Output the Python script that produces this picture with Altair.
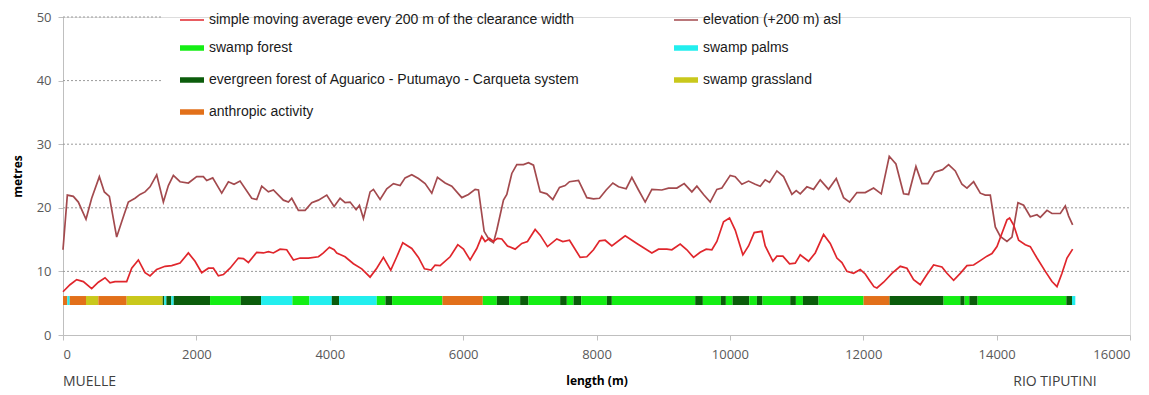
import altair as alt
import pandas as pd

# ---------------- data ----------------
elev_x = [0, 65, 155, 230, 345, 430, 545, 620, 695, 805, 880, 980, 1080, 1155, 1230, 1305, 1405, 1505, 1580, 1655,
          1755, 1880, 2005, 2105, 2155, 2245, 2380, 2480, 2565, 2655, 2830, 2905, 2980, 3080, 3155, 3305, 3380, 3430,
          3530, 3630, 3730, 3830, 3955, 4065, 4155, 4230, 4305, 4395, 4445, 4505, 4605, 4655, 4755, 4855, 4955, 5055,
          5130, 5230, 5330, 5430, 5530, 5615, 5730, 5830, 5980, 6080, 6180, 6230, 6315, 6395, 6455, 6505, 6605, 6655,
          6730, 6805, 6905, 6980, 7055, 7155, 7255, 7345, 7445, 7530, 7595, 7730, 7855, 7955, 8045, 8145, 8245, 8330,
          8445, 8530, 8630, 8730, 8830, 8980, 9080, 9205, 9315, 9430, 9505, 9605, 9705, 9805, 9880, 10005, 10080,
          10180, 10280, 10380, 10455, 10530, 10595, 10705, 10805, 10930, 10995, 11055, 11155, 11255, 11355, 11480,
          11595, 11705, 11795, 11905, 12030, 12155, 12270, 12390, 12490, 12605, 12680, 12790, 12880, 12970, 13070,
          13190, 13280, 13380, 13480, 13555, 13655, 13755, 13830, 13905, 13980, 14055, 14155, 14230, 14320, 14405,
          14505, 14605, 14655, 14755, 14830, 14955, 15030, 15080, 15140]
elev_y = [13.4, 22.0, 21.8, 20.9, 18.2, 21.5, 24.9, 22.5, 21.8, 15.4, 17.8, 20.9, 21.5, 22.1, 22.5, 23.3, 25.2, 20.9,
          23.5, 25.1, 24.1, 23.9, 24.9, 24.9, 24.3, 24.7, 22.3, 24.1, 23.7, 24.2, 21.5, 21.3, 23.4, 22.5, 22.8, 21.2,
          20.9, 21.5, 19.6, 19.6, 20.8, 21.2, 22.0, 20.2, 21.5, 20.8, 20.9, 19.7, 20.4, 18.3, 22.5, 22.9, 21.3, 23.0,
          23.8, 23.5, 24.7, 25.2, 24.6, 23.8, 22.3, 24.8, 23.9, 23.4, 21.6, 22.1, 22.9, 22.8, 16.3, 14.9, 14.5, 16.5,
          21.2, 22.1, 25.4, 26.8, 26.8, 27.1, 26.7, 22.5, 22.2, 21.3, 23.2, 23.5, 24.1, 24.3, 21.6, 21.4, 21.5, 22.8,
          23.9, 23.3, 23.0, 24.8, 22.8, 20.9, 22.9, 22.8, 23.1, 23.1, 23.8, 22.5, 23.4, 22.1, 20.9, 22.9, 23.1, 25.1,
          24.9, 23.7, 24.2, 23.7, 23.4, 24.4, 24.0, 25.8, 24.9, 22.1, 22.7, 22.2, 23.3, 22.9, 24.4, 22.9, 24.6, 21.6,
          20.9, 22.4, 22.4, 23.1, 22.2, 28.1, 26.9, 22.2, 22.1, 26.5, 23.8, 23.8, 25.6, 26.0, 26.8, 25.8, 23.7, 23.1,
          24.1, 22.3, 22.0, 22.0, 17.0, 15.5, 14.7, 15.4, 20.8, 20.4, 18.6, 18.9, 18.5, 19.6, 19.1, 19.1, 20.3, 18.7,
          17.3]

sma_x = [0, 105, 205, 305, 430, 530, 630, 705, 780, 955, 1030, 1130, 1230, 1305, 1405, 1530, 1630, 1755, 1880, 1980,
         2080, 2180, 2255, 2330, 2405, 2505, 2630, 2705, 2780, 2905, 3005, 3080, 3155, 3255, 3355, 3455, 3555, 3680,
         3830, 3905, 3995, 4065, 4105, 4230, 4355, 4480, 4605, 4705, 4805, 4915, 5005, 5095, 5230, 5330, 5420, 5520,
         5580, 5655, 5805, 5920, 6005, 6105, 6205, 6280, 6330, 6395, 6455, 6515, 6580, 6665, 6780, 6880, 6965, 7080,
         7155, 7265, 7405, 7495, 7595, 7755, 7855, 7955, 8045, 8130, 8230, 8430, 8605, 8830, 8930, 9055, 9130, 9255,
         9355, 9455, 9555, 9645, 9730, 9805, 9905, 9995, 10080, 10195, 10280, 10365, 10480, 10530, 10645, 10705,
         10795, 10895, 10980, 11055, 11180, 11280, 11405, 11505, 11605, 11680, 11755, 11855, 11955, 12030, 12100,
         12160, 12205, 12305, 12430, 12555, 12655, 12755, 12855, 12955, 13055, 13180, 13255, 13355, 13455, 13555,
         13655, 13755, 13855, 13930, 14005, 14080, 14155, 14195, 14255, 14330, 14430, 14505, 14605, 14730, 14830,
         14905, 14980, 15055, 15140]
sma_y = [6.8, 7.9, 8.7, 8.4, 7.3, 8.3, 9.0, 8.2, 8.4, 8.4, 10.5, 11.8, 9.8, 9.3, 10.3, 10.8, 10.9, 11.3, 12.9, 11.6,
         9.8, 10.5, 10.5, 9.3, 9.5, 10.5, 12.1, 12.0, 11.4, 13.0, 12.9, 13.1, 12.9, 13.5, 13.4, 11.8, 12.1, 12.1,
         12.3, 12.9, 13.8, 13.4, 12.9, 12.3, 11.2, 10.4, 9.1, 10.5, 12.2, 10.2, 12.3, 14.5, 13.6, 12.2, 10.4, 10.2,
         11.0, 10.9, 12.3, 14.2, 13.5, 11.8, 13.6, 15.5, 14.7, 15.2, 14.7, 15.2, 15.1, 14.0, 13.5, 14.4, 14.7, 16.6,
         15.7, 13.9, 15.1, 14.7, 14.9, 12.2, 12.3, 13.4, 14.8, 14.9, 14.0, 15.6, 14.4, 12.9, 13.5, 13.5, 13.4, 14.3,
         13.4, 12.2, 13.0, 13.5, 13.4, 14.7, 17.8, 18.4, 16.5, 12.6, 14.0, 16.1, 16.3, 14.0, 11.6, 12.4,
         12.4, 11.2, 11.3, 12.6, 11.6, 12.9, 15.8, 14.4, 12.1, 11.4, 10.0, 9.7, 10.3, 9.6, 8.5,
         7.6, 7.4, 8.3, 9.7, 10.8, 10.5, 8.7, 7.9, 9.5, 11.0, 10.7, 9.7, 8.6, 9.7, 10.9,
         11.0, 11.7, 12.4, 12.8, 13.9, 16.0, 18.1, 18.4, 17.3, 14.9, 14.2, 13.9, 12.1, 10.0, 8.4,
         7.6, 9.7, 12.1, 13.5]

# vegetation / land-use segments along the route (start m, end m, type)
seg_start = [0, 65, 100, 345, 530, 955, 1495, 1520, 1550, 1625, 1660, 2205, 2665, 2970, 3440, 3695, 4030, 4140,
             4705, 4835, 4935, 5690, 6295, 6505, 6690, 6855, 6980, 7455, 7555, 7655, 7770, 8155, 8230, 9480, 9595,
             9865, 9940, 10040, 10290, 10405, 10490, 10905, 10990, 11095, 11330, 12005, 12395, 13205, 13455, 13520,
             13590, 13715, 15045, 15130]
seg_end = [65, 100, 345, 530, 955, 1495, 1520, 1550, 1625, 1660, 2205, 2665, 2970, 3440, 3695, 4030, 4140, 4705,
           4835, 4935, 5690, 6295, 6505, 6690, 6855, 6980, 7455, 7555, 7655, 7770, 8155, 8230, 9480, 9595, 9865,
           9940, 10040, 10290, 10405, 10490, 10905, 10990, 11095, 11330, 12005, 12395, 13205, 13455, 13520, 13590,
           13715, 15045, 15130, 15180]
seg_type = ["A", "P", "A", "G", "A", "G", "E", "P", "E", "P", "E", "F", "E", "P", "F", "P", "E", "P",
            "F", "E", "F", "A", "F", "E", "F", "E", "F", "E", "F", "E", "F", "E", "F", "E", "F",
            "E", "F", "E", "F", "E", "F", "E", "F", "E", "F", "A", "E", "F", "E", "F",
            "E", "F", "E", "P"]

SMA = "simple moving average every 200 m of the clearance width"
ELEV = "elevation (+200 m) asl"
FOREST = "swamp forest"
PALMS = "swamp palms"
EVER = "evergreen forest of Aguarico - Putumayo - Carqueta system"
GRASS = "swamp grassland"
ANTH = "anthropic activity"
type_names = {"F": FOREST, "P": PALMS, "E": EVER, "G": GRASS, "A": ANTH}

# legend is filled column by column: left column first, then right column
legend_order = [SMA, FOREST, EVER, ANTH, ELEV, PALMS, GRASS]
legend_colors = ["#e0262c", "#14ee14", "#0b5c0b", "#e2701a", "#a34a4e", "#22eeee", "#c9c81c"]

x_ticks = [0, 2000, 4000, 6000, 8000, 10000, 12000, 14000, 16000]
y_ticks = [0, 10, 20, 30, 40, 50]
grid_full = [10, 20, 30]
grid_short = [40, 50]
end_left = ["MUELLE"]
end_left_pos = [0]
end_right = ["RIO TIPUTINI"]
end_right_pos = [15500]

# ---------------- tables ----------------
lines_df = pd.DataFrame({
    "length": elev_x + sma_x,
    "value": elev_y + sma_y,
    "series": [ELEV] * len(elev_x) + [SMA] * len(sma_x),
})
veg_df = pd.DataFrame({"start": seg_start, "end": seg_end,
                       "series": [type_names[t] for t in seg_type]})

W, H = 1067, 318
FONT = "Open Sans"
x_scale = alt.Scale(domain=[0, 16000], nice=False)
y_scale = alt.Scale(domain=[0, 50], nice=False)
color_scale = alt.Scale(domain=legend_order, range=legend_colors)

x_axis = alt.Axis(values=x_ticks, format="d", title="length (m)", grid=False,
                  labelFont=FONT, labelFontSize=13, labelColor="#595959", labelPadding=8,
                  tickSize=5, tickColor="#bfbfbf", domainColor="#bfbfbf",
                  titleFont=FONT, titleFontSize=12, titleFontWeight="bold", titleColor="#000000",
                  titlePadding=14)
y_axis = alt.Axis(values=y_ticks, title="metres", grid=False,
                  labelFont=FONT, labelFontSize=13, labelColor="#595959", labelPadding=7,
                  tickSize=5, tickColor="#bfbfbf", domainColor="#bfbfbf",
                  titleFont=FONT, titleFontSize=12, titleFontWeight="bold", titleColor="#000000",
                  titlePadding=12)

thin = "datum.value == '" + SMA + "' || datum.value == '" + ELEV + "' ? 1.5 : 5.5"

grid1 = alt.Chart(pd.DataFrame({"g": grid_full})).mark_rule(
    color="#9a9a9a", strokeDash=[2, 2], strokeWidth=1
).encode(y=alt.Y("g:Q", scale=y_scale, axis=y_axis), x=alt.value(0), x2=alt.value(W))

grid2 = alt.Chart(pd.DataFrame({"g": grid_short})).mark_rule(
    color="#9a9a9a", strokeDash=[2, 2], strokeWidth=1
).encode(y=alt.Y("g:Q", scale=y_scale, axis=y_axis), x=alt.value(0), x2=alt.value(100))

veg = alt.Chart(veg_df).mark_rule(strokeWidth=9).encode(
    x=alt.X("start:Q", scale=x_scale, axis=x_axis),
    x2="end:Q",
    y=alt.datum(5.42, scale=y_scale, axis=y_axis),
    color=alt.Color("series:N", scale=color_scale),
)

lines = alt.Chart(lines_df).mark_line(strokeWidth=1.7).encode(
    x=alt.X("length:Q", scale=x_scale, axis=x_axis),
    y=alt.Y("value:Q", scale=y_scale, axis=y_axis),
    color=alt.Color("series:N", scale=color_scale,
                    legend=alt.Legend(title=None, orient="none", legendX=122, legendY=-4, columns=2,
                                      direction="vertical",
                                      symbolType="stroke", symbolSize=576,
                                      symbolStrokeWidth=alt.ExprRef(thin),
                                      labelFont="Liberation Sans", labelFontSize=14, labelColor="#1a1a1a",
                                      labelLimit=800, labelOffset=10, columnPadding=83, rowPadding=10,
                                      padding=0)),
    detail="series:N",
)

txt_l = alt.Chart(pd.DataFrame({"t": end_left, "p": end_left_pos})).mark_text(
    align="left", baseline="middle", font=FONT, fontSize=14, color="#404040"
).encode(x=alt.X("p:Q", scale=x_scale, axis=x_axis), y=alt.value(H + 47), text="t:N")

txt_r = alt.Chart(pd.DataFrame({"t": end_right, "p": end_right_pos})).mark_text(
    align="right", baseline="middle", font=FONT, fontSize=14, color="#404040"
).encode(x=alt.X("p:Q", scale=x_scale, axis=x_axis), y=alt.value(H + 47), text="t:N")

chart = alt.layer(grid1, grid2, veg, lines, txt_l, txt_r).properties(
    width=W, height=H,
    autosize=alt.AutoSizeParams(type="none"),
    padding={"left": 63, "top": 17, "right": 19, "bottom": 60},
).configure_view(stroke="transparent").configure(background="white")

chart.save("out.html", embed_options={"renderer": "svg", "actions": False})
